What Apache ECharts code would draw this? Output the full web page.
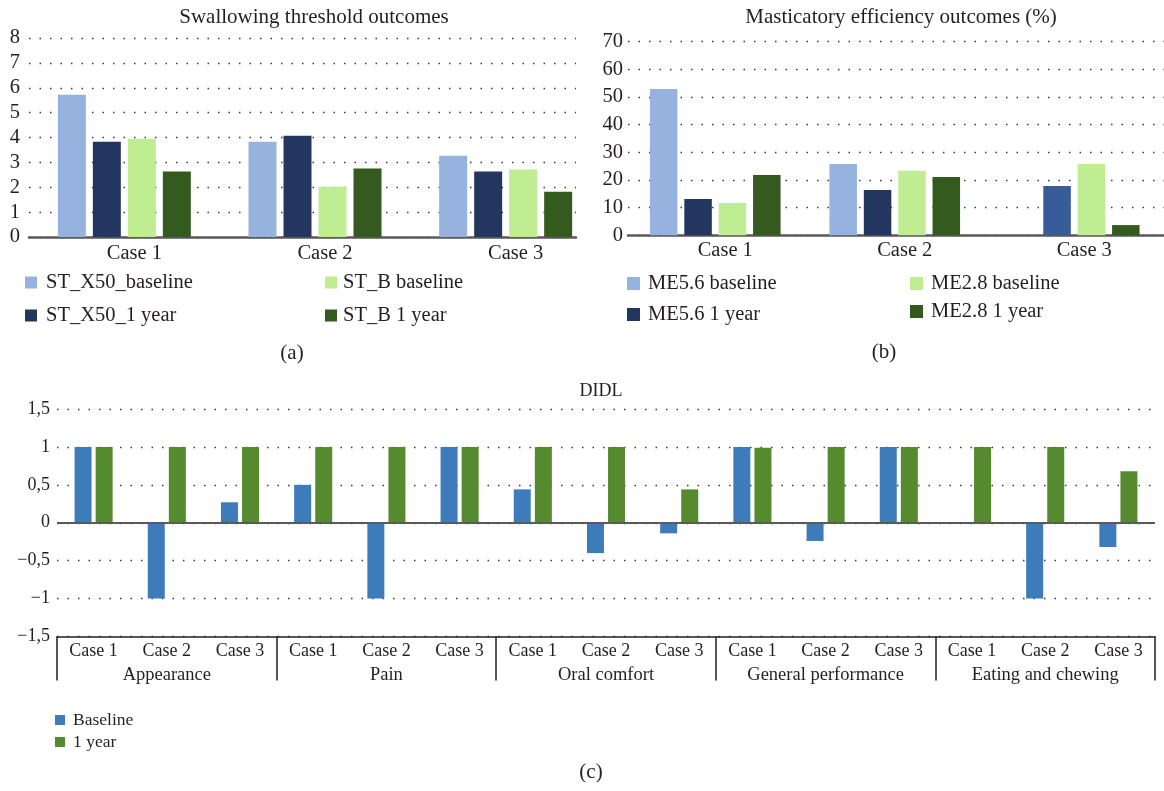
<!DOCTYPE html>
<html>
<head>
<meta charset="utf-8">
<script src="https://cdn.jsdelivr.net/npm/echarts@6/dist/echarts.min.js"></script>
<style>
html,body{margin:0;padding:0;background:#fff;}
#c{width:1164px;height:791px;}
</style>
</head>
<body>
<div id="c"></div>
<script>
// ---- Panel (a): Swallowing threshold outcomes ----
const stCases = ['Case 1', 'Case 2', 'Case 3'];
const stX50Baseline = [5.72, 3.83, 3.27];
const stX50Year1 = [3.83, 4.07, 2.63];
const stBBaseline = [3.95, 2.02, 2.71];
const stBYear1 = [2.63, 2.75, 1.82];
const stTicks = { min: 0, max: 8, interval: 1 };

// ---- Panel (b): Masticatory efficiency outcomes (%) ----
const meCases = ['Case 1', 'Case 2', 'Case 3'];
const me56Baseline = [52.9, 25.8, null];
const me56Year1 = [13.1, 16.4, 17.8];
const me56Year1Colors = ['#23365F', '#23365F', '#385C9A'];
const me28Baseline = [11.7, 23.3, 25.8];
const me28Year1 = [21.8, 21.1, 3.7];
const meTicks = { min: 0, max: 70, interval: 10 };

// ---- Panel (c): DIDL ----
const didlCases = ['Case 1','Case 2','Case 3','Case 1','Case 2','Case 3','Case 1','Case 2','Case 3',
                   'Case 1','Case 2','Case 3','Case 1','Case 2','Case 3'];
const didlGroups = ['Appearance', 'Pain', 'Oral comfort', 'General performance', 'Eating and chewing'];
const didlBaseline = [1, -1, 0.27, 0.5, -1, 1, 0.44, -0.40, -0.14, 1, -0.24, 1, 0, -1, -0.32];
const didlYear1 = [1, 1, 1, 1, 1, 1, 1, 1, 0.44, 0.99, 1, 1, 1, 1, 0.68];
const didlTickLabels = ['−1,5', '−1', '−0,5', '0', '0,5', '1', '1,5'];
const didlTicks = { min: -1.5, max: 1.5, interval: 0.5 };

const FONT = "'Liberation Serif', 'DejaVu Serif', serif";
const TXT = '#231F20';
const colA = ['#95B3DE', '#23365F', '#C0EC92', '#355A20'];
const colC = ['#3D7BBA', '#568A2F'];
const dotted = { color: '#3a3a3a', width: 1.4, type: [1.5, 9] };

const chart = echarts.init(document.getElementById('c'), null, { renderer: 'canvas' });

function txt(x, y, text, size) {
  return { type: 'text', x: x, y: y, silent: true,
    style: { text: text, fill: TXT, font: size + 'px ' + FONT,
      textAlign: 'center', textVerticalAlign: 'middle', align: 'center', verticalAlign: 'middle' } };
}

function legend(names, left, top, icon, gap, size, pad) {
  return { data: names, left: left, top: top, orient: 'vertical', padding: 0,
    icon: 'rect', itemWidth: icon, itemHeight: icon, itemGap: gap, selectedMode: false,
    textStyle: { fontFamily: FONT, fontSize: size, color: TXT, lineHeight: size, padding: [0, 0, 0, pad] } };
}

function bar(name, data, color, xi, yi, width, gap) {
  return { name: name, type: 'bar', data: data, xAxisIndex: xi, yAxisIndex: yi,
    barWidth: width, barGap: gap, itemStyle: { color: color }, silent: true };
}

const option = {
  animation: false,
  backgroundColor: '#fff',
  graphic: [
    txt(314, 17, 'Swallowing threshold outcomes', 21),
    txt(901, 17, 'Masticatory efficiency outcomes (%)', 21),
    txt(292, 353, '(a)', 21),
    txt(884, 352, '(b)', 21),
    txt(601, 391, 'DIDL', 18),
    txt(591, 772, '(c)', 21)
  ],
  legend: [
    legend(['ST_X50_baseline', 'ST_X50_1 year'], 25, 272, 12, 12, 20.5, 4),
    legend(['ST_B baseline', 'ST_B 1 year'], 325, 272, 12, 12, 20.5, 1),
    legend(['ME5.6 baseline', 'ME5.6 1 year'], 627, 273, 13, 10, 20.5, 3),
    legend(['ME2.8 baseline', 'ME2.8 1 year'], 910, 273, 13, 7, 20.5, 3),
    legend(['Baseline', '1 year'], 55, 711, 10, 4, 17.5, 3)
  ],
  grid: [
    { left: 29, top: 38, width: 572, height: 199 },
    { left: 29, top: 38, width: 547, height: 199 },
    { left: 625.5, top: 41.7, width: 567, height: 193.6 },
    { left: 628, top: 41.7, width: 536, height: 193.6 },
    { left: 57, top: 409, width: 1098, height: 227.5 }
  ],
  xAxis: [
    { gridIndex: 0, type: 'category', data: stCases, axisLine: { show: false }, axisTick: { show: false },
      axisLabel: { fontFamily: FONT, fontSize: 20.5, color: TXT, margin: 6, padding: [0, 0, 0, 20] } },
    { gridIndex: 1, type: 'value', min: 0, max: 1, axisLabel: { show: false }, axisTick: { show: false },
      splitLine: { show: false }, axisLine: { show: true, lineStyle: { color: '#5a5a5a', width: 2.5 } } },
    { gridIndex: 2, type: 'category', data: meCases, axisLine: { show: false }, axisTick: { show: false },
      axisLabel: { fontFamily: FONT, fontSize: 20.5, color: TXT, margin: 5, padding: [0, 0, 0, 20] } },
    { gridIndex: 3, type: 'value', min: 0, max: 1, axisLabel: { show: false }, axisTick: { show: false },
      splitLine: { show: false }, axisLine: { show: true, lineStyle: { color: '#5a5a5a', width: 2.5 } } },
    { gridIndex: 4, type: 'category', data: didlCases, position: 'bottom',
      axisLine: { show: true, onZero: false, lineStyle: { color: TXT, width: 1.5 } }, axisTick: { show: false },
      axisLabel: { interval: 0, fontFamily: FONT, fontSize: 18, color: TXT, margin: 6 } },
    { gridIndex: 4, type: 'category', data: didlGroups, position: 'bottom',
      axisLine: { show: false, onZero: false },
      axisTick: { show: true, length: 44, interval: 0, lineStyle: { color: TXT, width: 1.5 } },
      axisLabel: { interval: 0, fontFamily: FONT, fontSize: 18.5, color: TXT, margin: 29 } }
  ],
  yAxis: [
    { gridIndex: 0, type: 'value', min: stTicks.min, max: stTicks.max, show: false },
    { gridIndex: 1, type: 'value', min: stTicks.min, max: stTicks.max, interval: stTicks.interval,
      axisLine: { show: false }, axisTick: { show: false },
      axisLabel: { fontFamily: FONT, fontSize: 20.5, color: TXT, margin: 9 },
      splitLine: { show: true, lineStyle: dotted } },
    { gridIndex: 2, type: 'value', min: meTicks.min, max: meTicks.max, show: false },
    { gridIndex: 3, type: 'value', min: meTicks.min, max: meTicks.max, interval: meTicks.interval,
      axisLine: { show: false }, axisTick: { show: false },
      axisLabel: { fontFamily: FONT, fontSize: 20.5, color: TXT, margin: 5 },
      splitLine: { show: true, lineStyle: dotted } },
    { gridIndex: 4, type: 'value', min: didlTicks.min, max: didlTicks.max, interval: didlTicks.interval,
      axisLine: { show: false }, axisTick: { show: false },
      axisLabel: { fontFamily: FONT, fontSize: 18, color: TXT, margin: 7,
        formatter: function (v) { return didlTickLabels[Math.round((v - didlTicks.min) / didlTicks.interval)]; } },
      splitLine: { show: true, lineStyle: dotted } }
  ],
  series: [
    bar('ST_X50_baseline', stX50Baseline, colA[0], 0, 0, 28, '25%'),
    bar('ST_X50_1 year', stX50Year1, colA[1], 0, 0, 28, '25%'),
    bar('ST_B baseline', stBBaseline, colA[2], 0, 0, 28, '25%'),
    bar('ST_B 1 year', stBYear1, colA[3], 0, 0, 28, '25%'),
    bar('ME5.6 baseline', me56Baseline, colA[0], 2, 2, 27.5, '25%'),
    bar('ME5.6 1 year', me56Year1.map(function (v, i) {
      return { value: v, itemStyle: { color: me56Year1Colors[i] } };
    }), colA[1], 2, 2, 27.5, '25%'),
    bar('ME2.8 baseline', me28Baseline, colA[2], 2, 2, 27.5, '25%'),
    bar('ME2.8 1 year', me28Year1, colA[3], 2, 2, 27.5, '25%'),
    Object.assign(bar('Baseline', didlBaseline, colC[0], 4, 4, 17, '24%'), {
      markLine: { silent: true, symbol: ['none', 'none'], label: { show: false },
        lineStyle: { color: '#5a5a5a', width: 2, type: 'solid' }, data: [{ yAxis: 0 }] }
    }),
    bar('1 year', didlYear1, colC[1], 4, 4, 17, '24%')
  ]
};
chart.setOption(option);
</script>
</body>
</html>
